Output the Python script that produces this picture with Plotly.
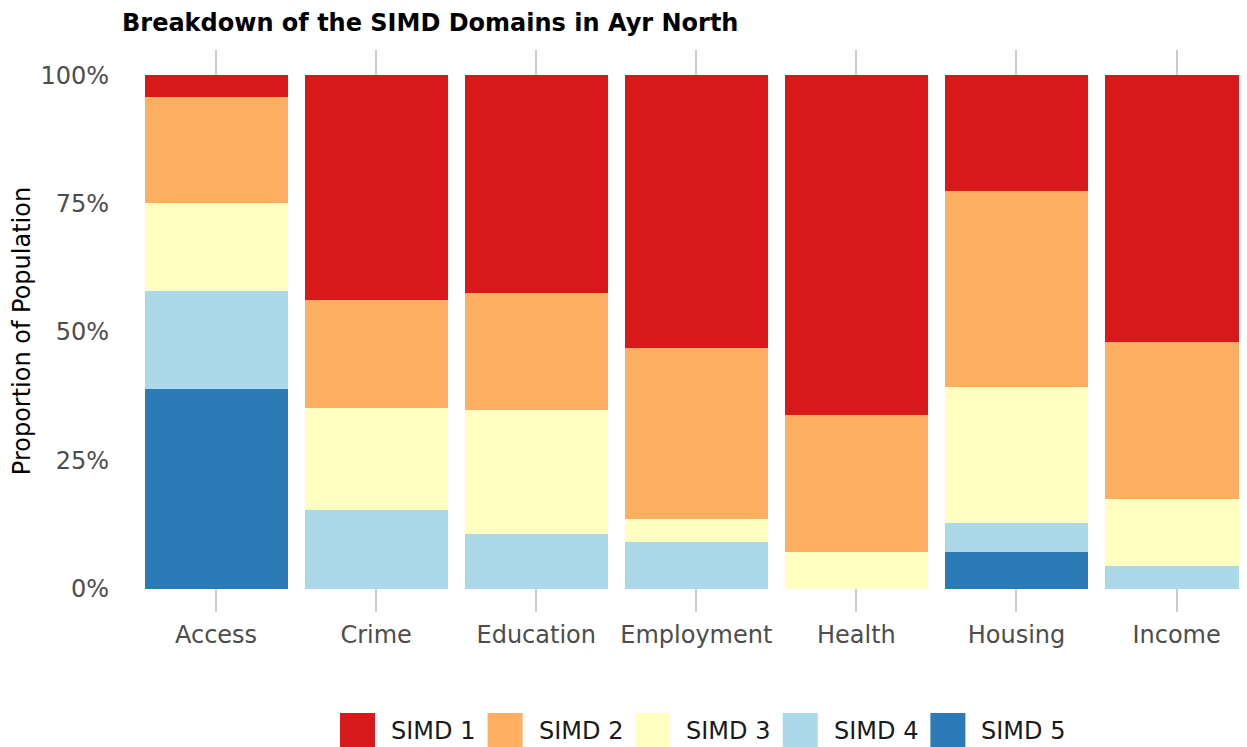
import plotly.graph_objects as go

domains = ["Access", "Crime", "Education", "Employment", "Health", "Housing", "Income"]
series_names = ["SIMD 1", "SIMD 2", "SIMD 3", "SIMD 4", "SIMD 5"]
simd1 = [0.043, 0.438, 0.424, 0.531, 0.661, 0.226, 0.519]
simd2 = [0.206, 0.210, 0.228, 0.333, 0.267, 0.381, 0.306]
simd3 = [0.171, 0.198, 0.241, 0.045, 0.072, 0.265, 0.130]
simd4 = [0.191, 0.154, 0.107, 0.091, 0.000, 0.056, 0.045]
simd5 = [0.389, 0.000, 0.000, 0.000, 0.000, 0.072, 0.000]
colors = ["#d7191c", "#fdae61", "#ffffbf", "#abd9e9", "#2c7bb6"]
y_ticks = [0, 0.25, 0.5, 0.75, 1.0]
y_tick_labels = ["0%", "25%", "50%", "75%", "100%"]

# page body has an 8px margin; figure occupies the rest of the window
OFF = 8
W, H = 1247 - OFF, 747 - OFF
L, R, T = 136 - OFF, 0, 50 - OFF
B = H - (612 - OFF)
PW, PH = W - L - R, H - T - B
FS = 24

fig = go.Figure()
values = [simd1, simd2, simd3, simd4, simd5]
# stack bottom-up: SIMD 5 at bottom, SIMD 1 on top
for name, vals, col in reversed(list(zip(series_names, values, colors))):
    fig.add_trace(go.Bar(x=domains, y=vals, name=name, marker=dict(color=col, line=dict(width=0)),
                         showlegend=False))

def px_x(p):
    return (p - OFF - L) / PW

def px_y(p):
    return (H - B - (p - OFF)) / PH

# manual legend with large square keys (reference pixel positions)
shapes = []
annotations = []
sw = 35
start = 340
step = 147.6
top = 713
for i, (name, col) in enumerate(zip(series_names, colors)):
    x0 = start + i * step
    shapes.append(dict(type="rect", xref="paper", yref="paper",
                       x0=px_x(x0), x1=px_x(x0 + sw), y0=px_y(top + sw), y1=px_y(top),
                       fillcolor=col, line=dict(width=0)))
    annotations.append(dict(xref="paper", yref="paper", x=px_x(x0 + sw + 14), y=px_y(top + 18),
                            text=name, showarrow=False, xanchor="left", yanchor="middle",
                            font=dict(size=FS, color="#1a1a1a", family="DejaVu Sans")))

fig.update_layout(
    width=W, height=H,
    margin=dict(l=L, r=R, t=T, b=B, autoexpand=False),
    barmode="stack", bargap=0.107,
    plot_bgcolor="white", paper_bgcolor="white",
    font=dict(family="DejaVu Sans", size=FS, color="#4d4d4d"),
    title=dict(text="<b>Breakdown of the SIMD Domains in Ayr North</b>", xref="container", yref="container",
               x=(122 - OFF) / W, xanchor="left", y=1 - (23 - OFF) / H, yanchor="middle",
               font=dict(size=FS, color="#000000", family="DejaVu Sans")),
    xaxis=dict(range=[-0.5, 6.44], showgrid=True, gridcolor="#cccccc", gridwidth=2,
               zeroline=False, showline=False, ticks="", ticklabelstandoff=6,
               tickfont=dict(size=FS, color="#4d4d4d"), fixedrange=True),
    yaxis=dict(range=[-0.045, 1.049], showgrid=False, zeroline=False, showline=False,
               tickvals=y_ticks, ticktext=y_tick_labels, ticks="", ticklabelstandoff=26,
               tickfont=dict(size=FS, color="#4d4d4d"),
               title=dict(text="Proportion of Population", standoff=6,
                          font=dict(size=FS, color="#000000"))),
    shapes=shapes,
    annotations=annotations,
)

fig.write_html("out.html")
